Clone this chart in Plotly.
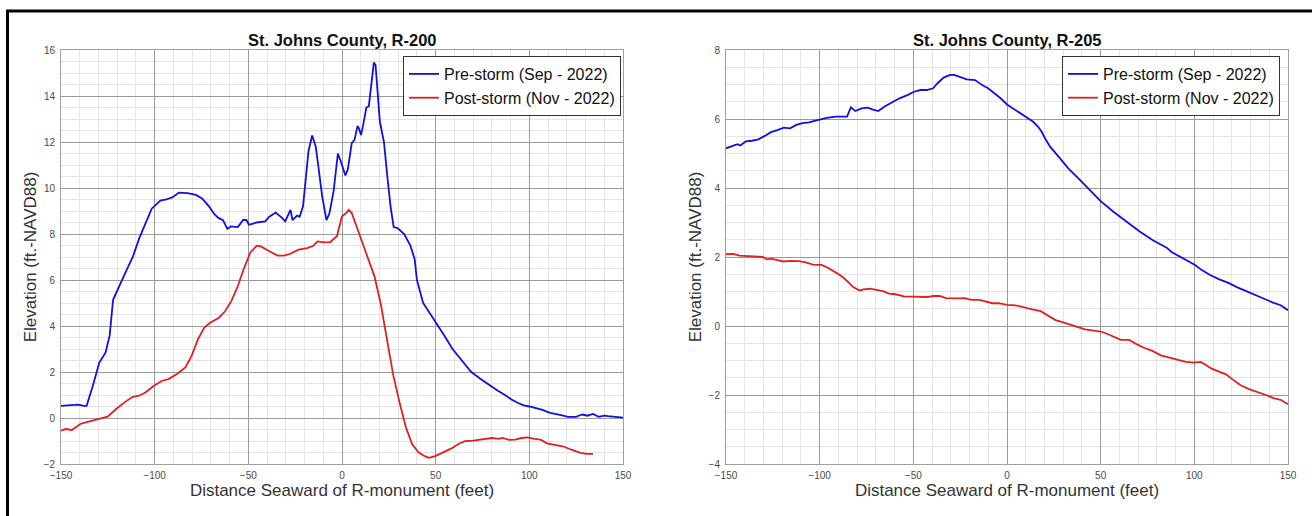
import plotly.graph_objects as go

W, H = 1312, 516

# ---- Left chart: R-200 ----
r200_pre_x = [-150, -145, -141, -137, -136.3, -133, -129.6, -126.2, -124, -122.2, -118.4, -115, -111.7,
              -108.3, -101.6, -97, -93.7, -90.4, -87, -82.5, -78, -74.7, -71, -68, -66, -63.5, -61.2,
              -59.4, -55.6, -52.7, -51, -49.6, -45.5, -41, -38.8, -35.4, -32, -30.3, -27.5, -26.4, -24,
              -22.6, -20.8, -19.5, -17.9, -15.9, -14, -12.4, -10.6, -8.3, -6.7, -4.5, -2.2, -0.4, 1.8,
              3.1, 5.2, 6.7, 8.3, 9, 10.1, 11.2, 13, 14.3, 15.7, 17, 17.9, 19, 20.2, 21.5, 22.4, 24.2,
              26, 27.6, 29.8, 33.2, 36.5, 38.8, 40, 43.3, 46.5, 50, 54.5, 59, 64, 69, 74, 79, 83, 87,
              90.5, 94, 97, 100, 103.5, 107, 111, 114, 117, 120.6, 123, 125, 127, 128.5, 131, 134, 137,
              140, 142, 146, 150]
r200_pre_y = [0.53, 0.55, 0.58, 0.52, 0.53, 1.4, 2.4, 2.85, 3.6, 5.14, 5.86, 6.43, 7.0,
              7.8, 9.1, 9.45, 9.5, 9.6, 9.8, 9.78, 9.7, 9.55, 9.2, 8.85, 8.7, 8.6, 8.22,
              8.33, 8.3, 8.62, 8.6, 8.4, 8.5, 8.55, 8.75, 8.93, 8.7, 8.55, 9.05, 8.6, 8.8,
              8.75, 9.2, 10.2, 11.6, 12.28, 11.8, 10.8, 9.65, 8.6, 8.9, 9.85, 11.5, 11.1, 10.55,
              10.8, 11.95, 12.1, 12.7, 12.6, 12.3, 12.7, 13.5, 13.55, 14.55, 15.45, 15.35, 14.25, 12.9, 12.35, 12.0, 10.5,
              9.15, 8.3, 8.25, 8.0, 7.5, 6.9, 6.0, 5.0, 4.6, 4.2, 3.6, 3.0, 2.5, 2.0, 1.7, 1.4, 1.2, 1.0,
              0.8, 0.65, 0.55, 0.5, 0.42, 0.35, 0.22, 0.18, 0.12, 0.05, 0.06, 0.05, 0.12, 0.15, 0.1, 0.18, 0.05,
              0.1, 0.08, 0.05, 0.02]

r200_post_x = [-150, -147.5, -144.2, -139.7, -135.2, -130.7, -125.1, -120.6, -116.1, -111.7, -108.3,
               -104.9, -100.4, -96, -92.6, -88.1, -83.6, -80.3, -76.9, -73.5, -70.2, -65.7, -62.3, -59,
               -55.6, -52.2, -49.6, -48.9, -45.5, -43.3, -38.8, -34.3, -31, -27.6, -23.1, -18.6, -15.3,
               -13, -9.6, -6.3, -2.7, 0, 1.8, 3.6, 5.2, 8.5, 11.9, 17.3, 20.6, 24, 27.4, 30.7, 34.1,
               37.4, 40.8, 44.2, 46.4, 49.8, 54.3, 58.7, 62.1, 65.5, 70, 75.6, 80.1, 83.5, 85.7, 89.1,
               92.5, 95.8, 99.2, 102.6, 106, 109.4, 113.8, 118.3, 122.8, 127.3, 130.6, 134]
r200_post_y = [-0.55, -0.48, -0.52, -0.26, -0.16, -0.07, 0.06, 0.39, 0.68, 0.92, 0.97,
               1.11, 1.4, 1.62, 1.69, 1.91, 2.2, 2.7, 3.42, 3.93, 4.15, 4.36, 4.65, 5.09,
               5.74, 6.53, 7.1, 7.2, 7.49, 7.46, 7.25, 7.06, 7.06, 7.14, 7.32, 7.39, 7.49,
               7.68, 7.64, 7.65, 7.9, 8.77, 8.88, 9.05, 8.91, 8.19, 7.39, 6.17, 5.0, 3.42, 1.84, 0.68, -0.4,
               -1.13, -1.49, -1.66, -1.73, -1.66, -1.49, -1.31, -1.13, -1.01, -0.98, -0.91, -0.87, -0.91, -0.87, -0.95,
               -0.94, -0.87, -0.84, -0.91, -0.94, -1.1, -1.16, -1.24, -1.39, -1.52, -1.56, -1.56]

# ---- Right chart: R-205 ----
r205_pre_x = [-150, -146.2, -143.9, -142.4, -139.4, -136.1, -132.7, -129.3, -126, -122.6, -119.2, -115.8,
              -112.5, -109.1, -105.7, -101.2, -95.5, -91, -85.4, -83.3, -81, -77.6, -74.3, -72, -68.7,
              -65.3, -61.9, -57.4, -52.9, -49.6, -46.2, -42.8, -39.4, -37.2, -33.8, -30.4, -28.2, -24.8,
              -21.5, -17, -13.5, -10.1, -6.7, -3.4, 0, 3.4, 7.8, 11, 14, 16.5, 18.5, 20.5, 23, 28.3,
              32.7, 38.1, 43.4, 50, 56.8, 63.9, 67.5, 71, 78.1, 85.2, 88, 92.4, 94.2, 100.4, 104, 108.4,
              113, 118.2, 123, 128, 133, 138.7, 142, 145.8, 148, 150]
r205_pre_y = [5.15, 5.22, 5.27, 5.23, 5.35, 5.37, 5.41, 5.51, 5.62, 5.68, 5.75, 5.73,
              5.83, 5.88, 5.9, 5.97, 6.04, 6.07, 6.07, 6.34, 6.23, 6.31, 6.33, 6.28, 6.23,
              6.36, 6.46, 6.6, 6.7, 6.79, 6.84, 6.84, 6.89, 7.03, 7.2, 7.28, 7.28, 7.21,
              7.15, 7.13, 6.99, 6.89, 6.75, 6.6, 6.42, 6.3, 6.16, 6.03, 5.92, 5.78, 5.63, 5.42, 5.2, 4.86,
              4.57, 4.28, 3.99, 3.62, 3.31, 3.02, 2.85, 2.73, 2.48, 2.27, 2.14, 2.0, 1.95, 1.77, 1.62, 1.48,
              1.36, 1.25, 1.12, 1.0, 0.88, 0.75, 0.68, 0.61, 0.53, 0.46]

r205_post_x = [-150, -146.2, -142.8, -138.3, -133.8, -130.4, -128.2, -126, -122.6, -119.2, -115.8, -111.3,
               -108, -103.5, -99, -95.6, -91.1, -87.7, -84.3, -82.1, -78.7, -76.5, -73.1, -69.7, -66.3,
               -63, -59.6, -55.1, -50.6, -46.1, -42.7, -39.3, -36, -32.6, -29.2, -25.9, -22.5, -19.1,
               -14.6, -11.2, -7.9, -4.5, 0, 4.5, 9, 13.5, 18, 22.5, 25.9, 29.2, 32.6, 37.1, 41.6, 46.1,
               50.1, 54, 57.3, 60.7, 65.2, 68.6, 73.1, 77.6, 82.1, 86.6, 91, 95.5, 100, 103.4, 105.6,
               109, 113.5, 116.9, 120.2, 124.7, 129.2, 133.7, 138.2, 142.7, 146.1, 150]
r205_post_y = [2.08, 2.09, 2.04, 2.02, 2.02, 2.0, 1.93, 1.95, 1.91, 1.87, 1.89, 1.88,
               1.85, 1.78, 1.77, 1.69, 1.54, 1.42, 1.25, 1.13, 1.03, 1.06, 1.08, 1.04, 1.01,
               0.94, 0.92, 0.86, 0.85, 0.86, 0.84, 0.87, 0.87, 0.81, 0.8, 0.8, 0.81, 0.76,
               0.76, 0.72, 0.66, 0.66, 0.61, 0.6, 0.53, 0.48, 0.43, 0.29, 0.17, 0.12, 0.05, -0.02, -0.1, -0.14,
               -0.16, -0.24, -0.31, -0.4, -0.4, -0.51, -0.63, -0.72, -0.85, -0.92, -0.98, -1.04, -1.06, -1.04, -1.11,
               -1.23, -1.33, -1.4, -1.54, -1.72, -1.83, -1.91, -2.0, -2.1, -2.14, -2.27]

titles = ["St. Johns County, R-200", "St. Johns County, R-205"]
series_names = ["Pre-storm (Sep - 2022)", "Post-storm (Nov - 2022)"]
x_title = "Distance Seaward of R-monument (feet)"
y_title = "Elevation (ft.-NAVD88)"

BLUE = "#1010e0"
RED = "#e02020"
FONT = "Arial, Liberation Sans, sans-serif"

fig = go.Figure()
fig.add_trace(go.Scatter(x=r200_pre_x, y=r200_pre_y, mode="lines", name=series_names[0],
                         line=dict(color=BLUE, width=1.8), xaxis="x", yaxis="y", legend="legend"))
fig.add_trace(go.Scatter(x=r200_post_x, y=r200_post_y, mode="lines", name=series_names[1],
                         line=dict(color=RED, width=1.8), xaxis="x", yaxis="y", legend="legend"))
fig.add_trace(go.Scatter(x=r205_pre_x, y=r205_pre_y, mode="lines", name=series_names[0],
                         line=dict(color=BLUE, width=1.8), xaxis="x2", yaxis="y2", legend="legend2"))
fig.add_trace(go.Scatter(x=r205_post_x, y=r205_post_y, mode="lines", name=series_names[1],
                         line=dict(color=RED, width=1.8), xaxis="x2", yaxis="y2", legend="legend2"))

xl = [61 / W, 623 / W]
xr = [726 / W, 1288 / W]
yd = [1 - 464 / H, 1 - 50 / H]

def xaxis(domain, anchor):
    return dict(domain=domain, anchor=anchor, range=[-150, 150], dtick=50, tick0=-150,
                showgrid=True, gridcolor="#9a9a9a", gridwidth=1,
                minor=dict(dtick=10, showgrid=True, gridcolor="#e4e4e4", gridwidth=1),
                showline=True, mirror=True, linecolor="#a0a0a0", linewidth=1,
                zeroline=False, ticks="", ticklabelstandoff=2, automargin=False,
                tickfont=dict(family=FONT, size=10, color="#4a4a4a"),
                title=dict(text=x_title, font=dict(family=FONT, size=17, color="#333333"), standoff=4))

def yaxis(domain, anchor, rng):
    return dict(domain=domain, anchor=anchor, range=rng, dtick=2,
                showgrid=True, gridcolor="#9a9a9a", gridwidth=1,
                minor=dict(dtick=0.5, showgrid=True, gridcolor="#e4e4e4", gridwidth=1),
                showline=True, mirror=True, linecolor="#a0a0a0", linewidth=1,
                zeroline=False, ticks="", ticklabelstandoff=3, automargin=False,
                tickfont=dict(family=FONT, size=10, color="#4a4a4a"),
                title=dict(text=y_title, font=dict(family=FONT, size=17, color="#333333"), standoff=2))

legend_style = dict(bgcolor="white", bordercolor="#333333", borderwidth=1,
                    font=dict(family=FONT, size=16, color="#111111"),
                    xanchor="left", yanchor="top", tracegroupgap=0, itemwidth=30)

fig.update_layout(
    width=W, height=H,
    margin=dict(l=0, r=0, t=0, b=0, pad=0, autoexpand=False),
    paper_bgcolor="white", plot_bgcolor="white",
    showlegend=True,
    xaxis=xaxis(xl, "y"),
    yaxis=yaxis(yd, "x", [-2, 16]),
    xaxis2=xaxis(xr, "y2"),
    yaxis2=yaxis(yd, "x2", [-4, 8]),
    legend=dict(x=403 / W, y=1 - 56 / H, **legend_style),
    legend2=dict(x=1062 / W, y=1 - 56 / H, **legend_style),
    annotations=[
        dict(text="<b>" + titles[0] + "</b>", x=(xl[0] + xl[1]) / 2, y=1 - 40 / H,
             xref="paper", yref="paper", showarrow=False, xanchor="center", yanchor="middle",
             font=dict(family=FONT, size=16.5, color="#111111")),
        dict(text="<b>" + titles[1] + "</b>", x=(xr[0] + xr[1]) / 2, y=1 - 40 / H,
             xref="paper", yref="paper", showarrow=False, xanchor="center", yanchor="middle",
             font=dict(family=FONT, size=16.5, color="#111111")),
    ],
    shapes=[
        dict(type="rect", xref="paper", yref="paper", x0=7.5 / W, x1=1.05, y0=-0.05, y1=1 - 11 / H,
             line=dict(color="black", width=3), fillcolor="rgba(0,0,0,0)", layer="above"),
    ],
)

fig.write_html("out.html", config={"displayModeBar": False},
               post_script="document.body.style.margin='0';document.body.style.overflow='hidden';")
